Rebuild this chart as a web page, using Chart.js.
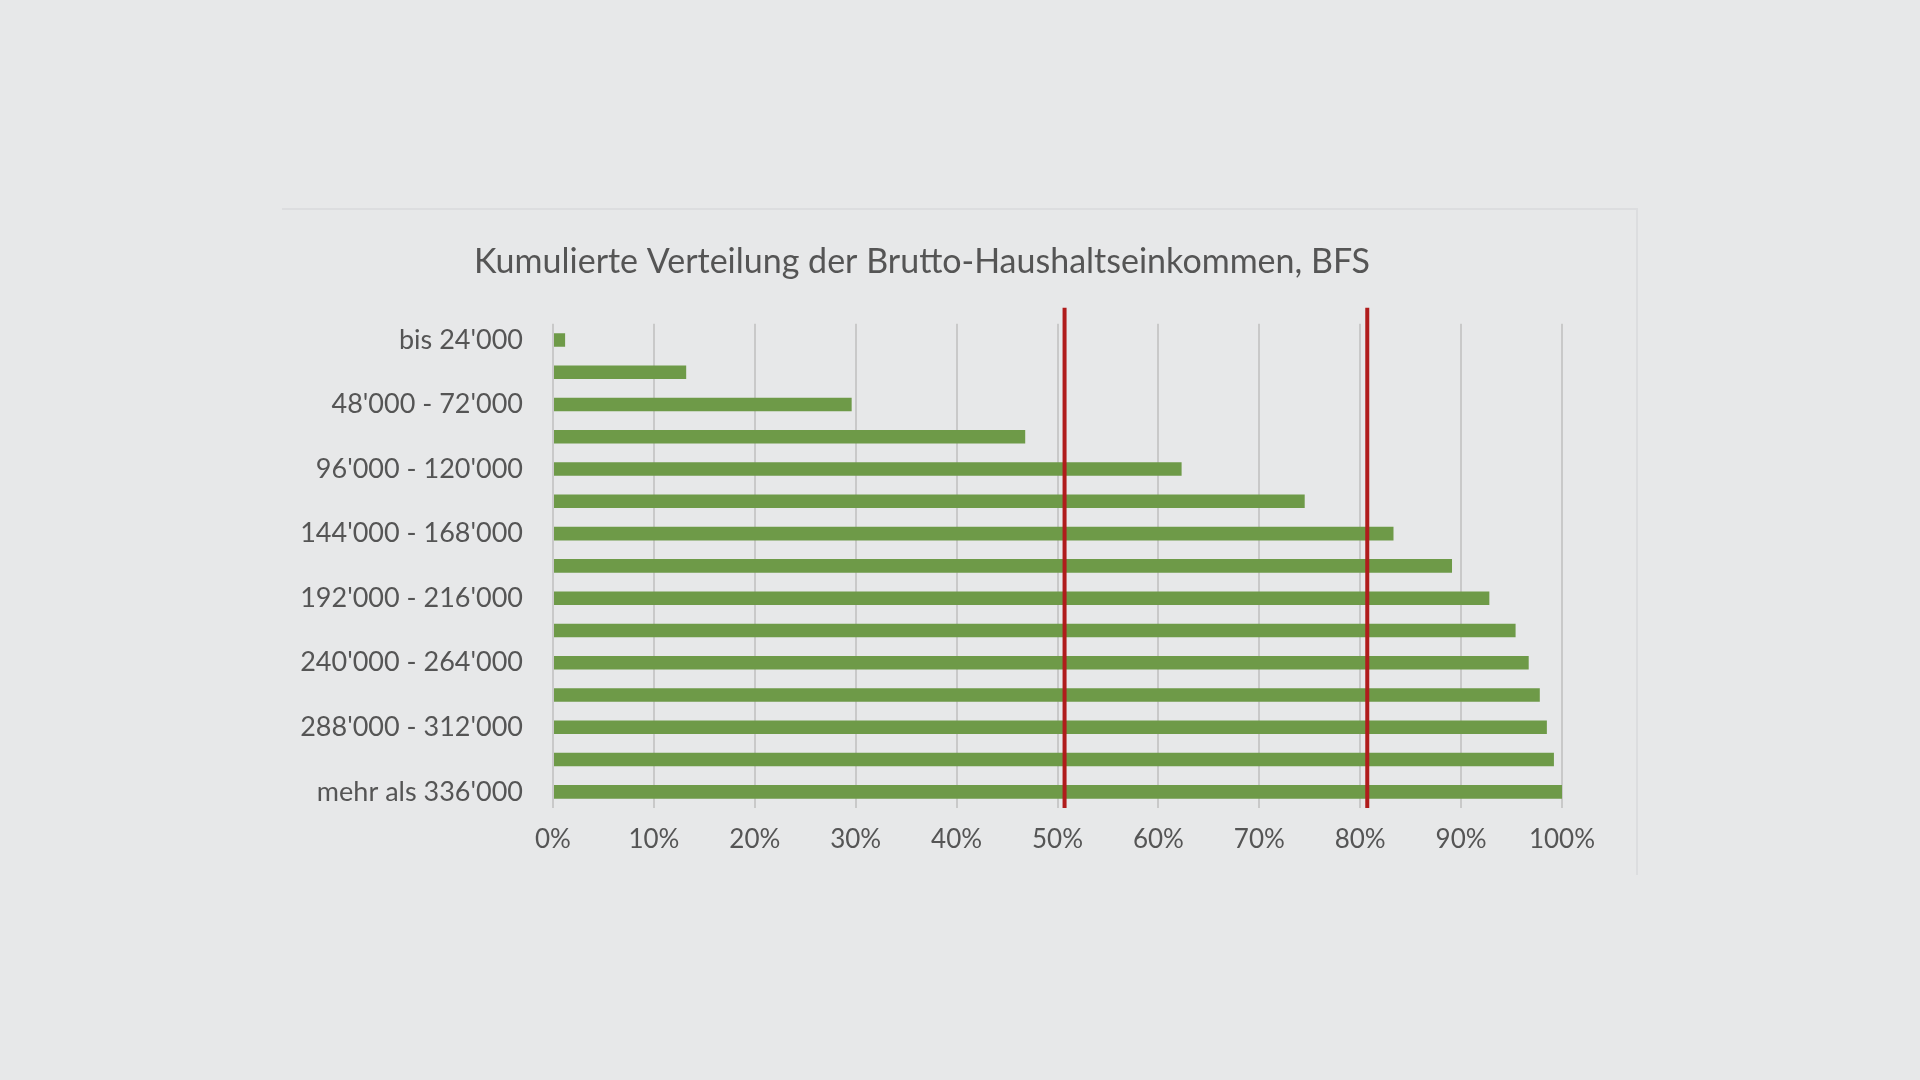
<!DOCTYPE html>
<html>
<head>
<meta charset="utf-8">
<script src="https://cdn.jsdelivr.net/npm/chart.js@4"></script>
<style>
  body { margin: 0; width: 1920px; height: 1080px; background: #e7e8e9; overflow: hidden; }
  #panel { position: absolute; left: 282px; top: 208px; width: 1356px; height: 667px;
           border-top: 2px solid #dcdddf; border-right: 2px solid #dcdddf; box-sizing: border-box; }
  #chart { position: absolute; left: 0; top: 0; }
</style>
</head>
<body>
<div id="panel"><canvas id="chart" width="1354" height="665"></canvas></div>
<script>
const incomeClasses = [
  "bis 24'000", "24'000 - 48'000", "48'000 - 72'000", "72'000 - 96'000",
  "96'000 - 120'000", "120'000 - 144'000", "144'000 - 168'000", "168'000 - 192'000",
  "192'000 - 216'000", "216'000 - 240'000", "240'000 - 264'000", "264'000 - 288'000",
  "288'000 - 312'000", "312'000 - 336'000", "mehr als 336'000"
];
const cumulativeShare = [1.2, 13.2, 29.6, 46.8, 62.3, 74.5, 83.3, 89.1, 92.8, 95.4, 96.7, 97.8, 98.5, 99.2, 100];
const markerLines = [50.7, 80.7];

const redLines = {
  id: 'redLines',
  afterDatasetsDraw(chart) {
    const ctx = chart.ctx;
    const x = chart.scales.x;
    const area = chart.chartArea;
    ctx.save();
    ctx.strokeStyle = '#b01c1c';
    ctx.lineWidth = 4;
    markerLines.forEach(function (v) {
      let px = x.getPixelForValue(v);
      ctx.beginPath();
      ctx.moveTo(px, area.top - 16);
      ctx.lineTo(px, area.bottom);
      ctx.stroke();
    });
    ctx.restore();
  }
};

new Chart(document.getElementById('chart'), {
  type: 'bar',
  data: {
    labels: incomeClasses,
    datasets: [{
      data: cumulativeShare,
      backgroundColor: '#6e9a48',
      barPercentage: 0.42,
      categoryPercentage: 1.0
    }]
  },
  options: {
    indexAxis: 'y',
    responsive: false,
    animation: false,
    devicePixelRatio: 1,
    layout: { padding: { left: 0, right: 74, top: 0, bottom: 0 } },
    plugins: {
      legend: { display: false },
      tooltip: { enabled: false },
      title: {
        display: true,
        text: 'Kumulierte Verteilung der Brutto-Haushaltseinkommen, BFS',
        color: '#555',
        font: { family: 'Lato', size: 34, weight: 'normal' },
        padding: { top: 32, bottom: 41 }
      }
    },
    scales: {
      x: {
        min: 0, max: 100,
        ticks: {
          stepSize: 10, color: '#555', padding: 16,
          font: { family: 'Lato', size: 26 },
          callback: function (v) { return v + '%'; }
        },
        grid: { color: '#c9c9c9', lineWidth: 2, drawTicks: false },
        border: { display: false },
        afterFit: function (s) { s.height = 67; }
      },
      y: {
        ticks: {
          color: '#555', padding: 22, autoSkip: false,
          font: { family: 'Lato', size: 27 },
          callback: function (v, i) { return i % 2 === 0 ? this.getLabelForValue(v) : ''; }
        },
        grid: { display: false },
        border: { display: false },
        afterFit: function (s) { s.width = 271; }
      }
    }
  },
  plugins: [redLines]
});
</script>
</body>
</html>
